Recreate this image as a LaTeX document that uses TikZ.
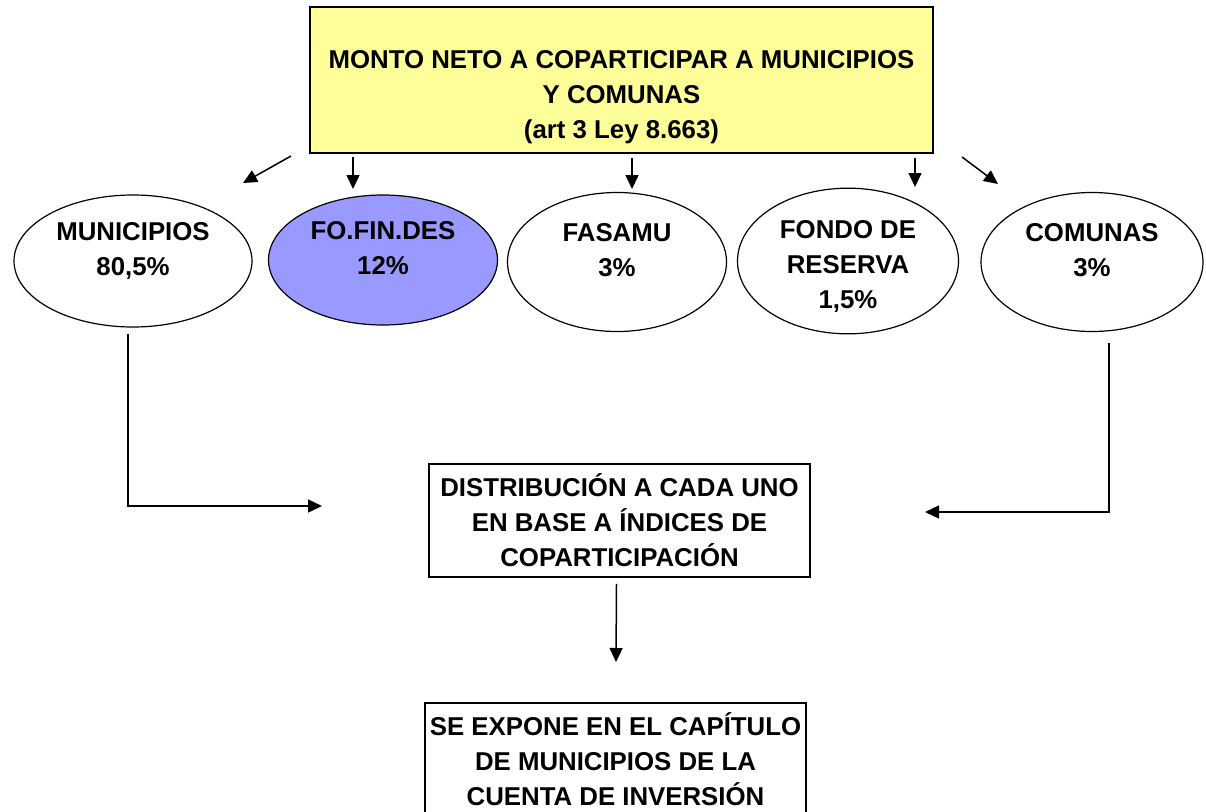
\documentclass[tikz,border=0pt]{standalone}
\usepackage{fontspec}
\setmainfont{Liberation Sans}
\usetikzlibrary{arrows.meta}
\usetikzlibrary{shapes.geometric}

\definecolor{montoyellow}{HTML}{FFFF99}
\definecolor{fondoblue}{HTML}{9999FF}

\tikzset{
    flecha/.style={line width=1.5pt, -{Triangle[length=14pt,width=13pt]}},
    caja/.style={draw, line width=1.5pt, align=center, inner sep=0pt},
    ovalo/.style={draw, ellipse, line width=1.2pt, align=center, inner sep=0pt, fill=white}
}
% empuja el texto de dos lineas hacia arriba
\newcommand{\bajo}{\rule[-24pt]{0pt}{0pt}}

\begin{document}
\begin{tikzpicture}[x=1pt,y=-1pt,font=\bfseries\fontsize{25.8}{35}\selectfont]
	\useasboundingbox (0,0) rectangle (1206,811);
	\clip (0,0) rectangle (1206,811);

	\node[caja, fill=montoyellow, minimum width=623pt, minimum height=146pt] (monto) at (621.5,80)
		{\rule{0pt}{53pt}MONTO NETO A COPARTICIPAR A MUNICIPIOS\\Y COMUNAS\\(art 3 Ley 8.663)};

	\node[ovalo, minimum width=238pt, minimum height=132pt] (mun) at (133,261) {MUNICIPIOS\\80,5\%\bajo};
	\node[ovalo, fill=fondoblue, minimum width=229pt, minimum height=130pt] (fof) at (383,260) {FO.FIN.DES\\12\%\bajo};
	\node[ovalo, minimum width=219pt, minimum height=139pt] (fas) at (617,262) {FASAMU\\3\%\bajo};
	\node[ovalo, minimum width=221pt, minimum height=138pt] (fon) at (848,261) {\rule{0pt}{29pt}FONDO DE\\RESERVA\\1,5\%};
	\node[ovalo, minimum width=222pt, minimum height=139pt] (com) at (1092,262) {COMUNAS\\3\%\bajo};

	\node[caja, minimum width=381pt, minimum height=113pt] (dist) at (619.5,520.5)
		{DISTRIBUCIÓN A CADA UNO\\EN BASE A ÍNDICES DE\\COPARTICIPACIÓN};
	\node[caja, minimum width=381pt, minimum height=112pt] (expo) at (615.5,759)
		{SE EXPONE EN EL CAPÍTULO\\DE MUNICIPIOS DE LA\\CUENTA DE INVERSIÓN};

	% flechas sueltas bajo el monto
	\coordinate (sMun) at (291,156); \coordinate (eMun) at (243,183);
	\coordinate (sFof) at (353,157); \coordinate (eFof) at (353,189);
	\coordinate (sFas) at (632,158); \coordinate (eFas) at (632,189);
	\coordinate (sFon) at (915,158); \coordinate (eFon) at (915,187);
	\coordinate (sCom) at (962,157); \coordinate (eCom) at (998,184);
	\draw[flecha] (sMun) -- (eMun);
	\draw[flecha] (sFof) -- (eFof);
	\draw[flecha] (sFas) -- (eFas);
	\draw[flecha] (sFon) -- (eFon);
	\draw[flecha] (sCom) -- (eCom);

	\coordinate (lleMun) at (322,506);
	\coordinate (lleCom) at (925,512);
	\coordinate (lleExpo) at (616,662);
	\draw[flecha] ([xshift=-5pt,yshift=-6pt]mun.south) |- (lleMun);
	\draw[flecha] ([xshift=17pt,yshift=-11pt]com.south) |- (lleCom);
	\draw[flecha] ([xshift=-3pt,yshift=-6pt]dist.south) -- (lleExpo);
\end{tikzpicture}
\end{document}
